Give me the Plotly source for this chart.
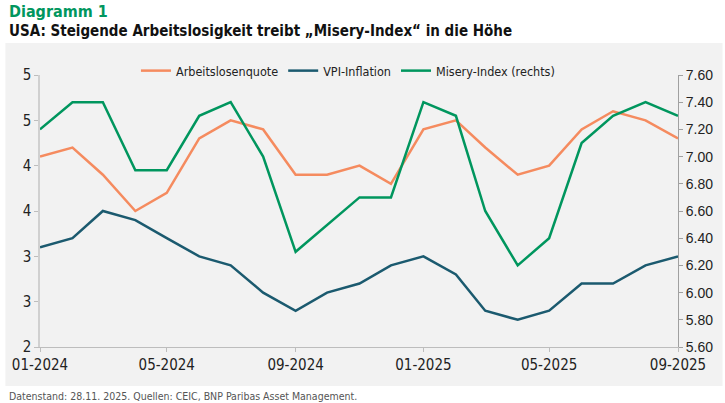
import plotly.graph_objs as go

# Monthly data, 01-2024 .. 09-2025
months = [
    "2024-01-01", "2024-02-01", "2024-03-01", "2024-04-01", "2024-05-01",
    "2024-06-01", "2024-07-01", "2024-08-01", "2024-09-01", "2024-10-01",
    "2024-11-01", "2024-12-01", "2025-01-01", "2025-02-01", "2025-03-01",
    "2025-04-01", "2025-05-01", "2025-06-01", "2025-07-01", "2025-08-01",
    "2025-09-01",
]
arbeitslosenquote = [4.1, 4.2, 3.9, 3.5, 3.7, 4.3, 4.5, 4.4, 3.9, 3.9, 4.0,
                     3.8, 4.4, 4.5, 4.2, 3.9, 4.0, 4.4, 4.6, 4.5, 4.3]
vpi_inflation = [3.1, 3.2, 3.5, 3.4, 3.2, 3.0, 2.9, 2.6, 2.4, 2.6, 2.7,
                 2.9, 3.0, 2.8, 2.4, 2.3, 2.4, 2.7, 2.7, 2.9, 3.0]
misery_index = [7.2, 7.4, 7.4, 6.9, 6.9, 7.3, 7.4, 7.0, 6.3, 6.5, 6.7,
                6.7, 7.4, 7.3, 6.6, 6.2, 6.4, 7.1, 7.3, 7.4, 7.3]

left_ticks = [2, 2.5, 3, 3.5, 4, 4.5, 5]
left_labels = ["2", "3", "3", "4", "4", "5", "5"]

ORANGE = "#F58B5F"
BLUE = "#1B5A6F"
GREEN = "#00965E"
NARROW = "DejaVu Sans Condensed, Liberation Sans Narrow, Arial Narrow, sans-serif"

fig = go.Figure()
fig.add_trace(go.Scatter(x=months, y=arbeitslosenquote, name="Arbeitslosenquote",
                         mode="lines", line=dict(color=ORANGE, width=2.5)))
fig.add_trace(go.Scatter(x=months, y=vpi_inflation, name="VPI-Inflation",
                         mode="lines", line=dict(color=BLUE, width=2.5)))
fig.add_trace(go.Scatter(x=months, y=misery_index, name="Misery-Index (rechts)",
                         mode="lines", line=dict(color=GREEN, width=2.5), yaxis="y2"))

# plot area: x 35..680, y 75..347 in a 725x403 page
W, H = 725, 403
ml, mr, mt, mb = 35, 45, 75, 56
pw, ph = W - ml - mr, H - mt - mb

def px(x):
    return (x - ml) / pw

def py(y):
    return (H - mb - y) / ph

fig.update_layout(
    width=W, height=H,
    margin=dict(l=ml, r=mr, t=mt, b=mb),
    paper_bgcolor="white",
    plot_bgcolor="#F2F2F2",
    showlegend=True,
    legend=dict(orientation="h", x=px(132), y=py(71), xanchor="left", yanchor="middle",
                font=dict(family=NARROW, size=12.5, color="#222"),
                bgcolor="rgba(0,0,0,0)", itemwidth=30, tracegroupgap=0),
    xaxis=dict(type="date", range=["2024-01-01", "2025-09-01"],
               tickvals=["2024-01-01", "2024-05-01", "2024-09-01", "2025-01-01",
                         "2025-05-01", "2025-09-01"],
               tickformat="%m-%Y", showgrid=False, zeroline=False,
               showline=True, linecolor="#BDBDBD", linewidth=1,
               ticks="outside", ticklen=4, tickcolor="#BDBDBD",
               tickfont=dict(family=NARROW, size=15, color="#222")),
    yaxis=dict(range=[2, 5], tickvals=left_ticks, ticktext=left_labels,
               showgrid=False, zeroline=False, showline=True,
               linecolor="#D0D0D0", linewidth=1.5,
               ticks="outside", ticklen=4, tickcolor="#BDBDBD",
               tickfont=dict(family=NARROW, size=15, color="#222")),
    yaxis2=dict(range=[5.6, 7.6], dtick=0.2, tick0=5.6, tickformat=".2f",
                overlaying="y", side="right",
                showgrid=False, zeroline=False, showline=True,
                linecolor="#A0A0A0", linewidth=1,
                ticks="outside", ticklen=4, tickcolor="#A0A0A0",
                tickfont=dict(family="Liberation Sans, Arial, sans-serif", size=14, color="#222")),
    shapes=[dict(type="rect", xref="paper", yref="paper", layer="below",
                 x0=px(0), x1=px(W), y0=py(386), y1=py(43),
                 fillcolor="#F2F2F2", line=dict(width=0))],
    annotations=[
        dict(text="<b>Diagramm 1</b>", xref="paper", yref="paper",
             x=px(2), y=py(12), xanchor="left", yanchor="middle", showarrow=False,
             font=dict(family=NARROW, size=16, color=GREEN)),
        dict(text="<b>USA: Steigende Arbeitslosigkeit treibt „Misery-Index“ in die Höhe</b>",
             xref="paper", yref="paper",
             x=px(2), y=py(31), xanchor="left", yanchor="middle", showarrow=False,
             font=dict(family=NARROW, size=15, color="#111")),
        dict(text="Datenstand: 28.11. 2025. Quellen: CEIC, BNP Paribas Asset Management.",
             xref="paper", yref="paper",
             x=px(2), y=py(396), xanchor="left", yanchor="middle", showarrow=False,
             font=dict(family=NARROW, size=10.5, color="#555")),
    ],
)

fig.write_html("out.html", config={"displayModeBar": False},
               post_script="document.body.style.margin='0';")
